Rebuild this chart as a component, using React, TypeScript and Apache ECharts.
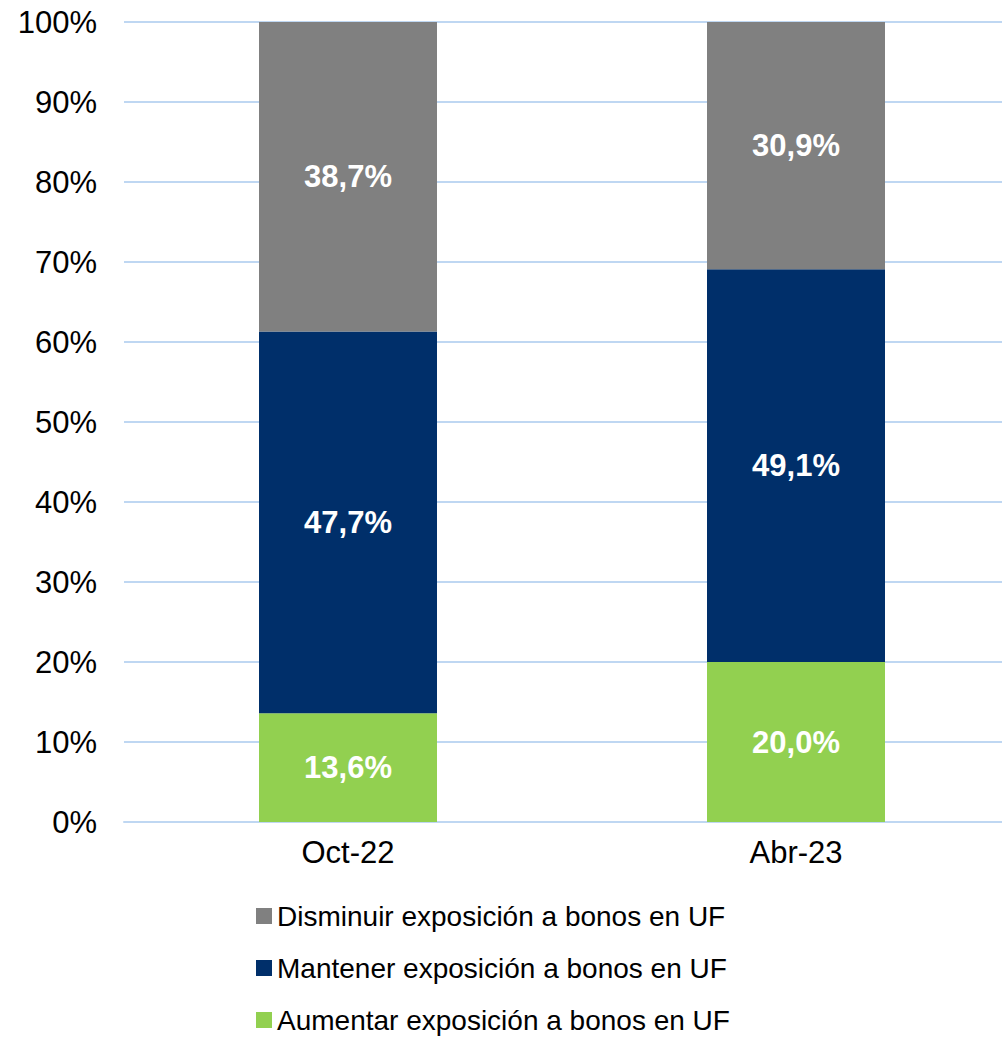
import React, { useEffect, useRef } from "react";
import * as echarts from "echarts";

const categories = ["Oct-22", "Abr-23"];
const aumentar = [13.6, 20.0];
const mantener = [47.7, 49.1];
const disminuir = [38.7, 30.9];
const yTicks = [0, 10, 20, 30, 40, 50, 60, 70, 80, 90, 100];

const FONT = "'Liberation Sans', Arial, sans-serif";

export default function App() {
  const ref = useRef<HTMLDivElement>(null);
  useEffect(() => {
    if (!ref.current) return;
    const chart = echarts.init(ref.current, undefined, { renderer: "svg" });
    const label = {
      show: true,
      position: "inside",
      color: "#ffffff",
      fontWeight: "bold",
      fontSize: 31,
      fontFamily: FONT,
      formatter: (p: any) => p.value.toFixed(1).replace(".", ",") + "%",
    };
    chart.setOption({
      animation: false,
      textStyle: { fontFamily: FONT },
      grid: { left: 124, top: 22, width: 896, height: 800, containLabel: false, outerBoundsMode: "none" },
      legend: {
        orient: "vertical",
        left: 251,
        top: 897,
        height: 200,
        itemWidth: 16,
        itemHeight: 16,
        itemGap: 24,
        icon: "rect",
        data: [
          "Disminuir exposición a bonos en UF",
          "Mantener exposición a bonos en UF",
          "Aumentar exposición a bonos en UF",
        ],
        textStyle: { fontSize: 28, color: "#000", fontFamily: FONT, lineHeight: 28 },
      },
      xAxis: {
        type: "category",
        data: categories,
        axisLine: { show: true, lineStyle: { color: "#BFD7F2", width: 2 } },
        axisTick: { show: false },
        axisLabel: { fontSize: 31, color: "#000", margin: 15, fontFamily: FONT },
      },
      yAxis: {
        type: "value",
        min: yTicks[0],
        max: yTicks[yTicks.length - 1],
        interval: 10,
        axisLine: { show: false },
        axisTick: { show: false },
        splitLine: { lineStyle: { color: "#BFD7F2", width: 2 } },
        axisLabel: { fontSize: 31, color: "#000", margin: 27, fontFamily: FONT, formatter: "{value}%" },
      },
      series: [
        {
          name: "Aumentar exposición a bonos en UF",
          type: "bar",
          stack: "s",
          barWidth: 178,
          data: aumentar,
          itemStyle: { color: "#92D050" },
          label,
        },
        {
          name: "Mantener exposición a bonos en UF",
          type: "bar",
          stack: "s",
          barWidth: 178,
          data: mantener,
          itemStyle: { color: "#002F6A" },
          label,
        },
        {
          name: "Disminuir exposición a bonos en UF",
          type: "bar",
          stack: "s",
          barWidth: 178,
          data: disminuir,
          itemStyle: { color: "#808080" },
          label,
        },
      ],
    });
    return () => chart.dispose();
  }, []);
  return (
    <div
      ref={ref}
      style={{ position: "absolute", left: 0, top: 0, width: 1002, height: 1037, background: "#fff" }}
    />
  );
}
